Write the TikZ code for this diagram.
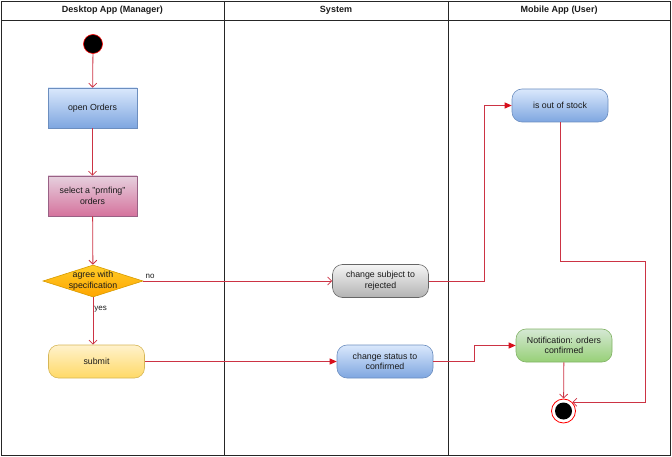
\documentclass[tikz,border=0pt]{standalone}
\usepackage{fontspec}
\setmainfont{Liberation Sans}
\usetikzlibrary{arrows.meta,shapes.geometric,calc}
\definecolor{lnred}{HTML}{CC3344}
\definecolor{arrred}{HTML}{D8101C}
\definecolor{bluetop}{HTML}{DAE8FC}
\definecolor{bluebot}{HTML}{7EA6E0}
\definecolor{bluestr}{HTML}{6C8EBF}
\definecolor{pinktop}{HTML}{E6D0DE}
\definecolor{pinkbot}{HTML}{D5739D}
\definecolor{pinkstr}{HTML}{996185}
\definecolor{yeltop}{HTML}{FFF2CC}
\definecolor{yelbot}{HTML}{FFD966}
\definecolor{yelstr}{HTML}{D6B656}
\definecolor{graytop}{HTML}{F5F5F5}
\definecolor{graybot}{HTML}{B3B3B3}
\definecolor{graystr}{HTML}{666666}
\definecolor{grntop}{HTML}{D5E8D4}
\definecolor{grnbot}{HTML}{97D077}
\definecolor{grnstr}{HTML}{82B366}
\definecolor{orgtop}{HTML}{FFCD28}
\definecolor{orgbot}{HTML}{FFA500}
\definecolor{orgstr}{HTML}{D79B00}
\definecolor{txt}{HTML}{1A1A1A}
\tikzset{
  nodefont/.style={font=\fontsize{8.8}{10.6}\selectfont, text=txt},
  actbox/.style={nodefont, draw, rectangle, minimum width=89pt, minimum height=40pt, inner sep=1pt, align=center, line width=0.6pt},
  rndbox/.style={nodefont, draw, rectangle, rounded corners=10pt, minimum width=96pt, minimum height=33pt, inner sep=1pt, align=center, line width=0.6pt},
  bluefill/.style={top color=bluetop, bottom color=bluebot, draw=bluestr},
  pinkfill/.style={top color=pinktop, bottom color=pinkbot, draw=pinkstr},
  yelfill/.style={top color=yeltop, bottom color=yelbot, draw=yelstr},
  grayfill/.style={top color=graytop, bottom color=graybot, draw=graystr},
  grnfill/.style={top color=grntop, bottom color=grnbot, draw=grnstr},
  hdr/.style={font=\fontsize{9}{11}\selectfont\bfseries, text=txt},
  lbl/.style={font=\fontsize{8}{10}\selectfont, text=txt, inner sep=1pt},
  flowo/.style={draw=lnred, line width=0.8pt, -{Straight Barb[length=4pt,width=8pt]}},
  flowf/.style={draw=lnred, line width=0.8pt, -{Triangle[length=7pt,width=6pt,color=arrred]}},
  frame/.style={draw=black!85, line width=0.8pt}
}
\begin{document}
\begin{tikzpicture}[x=1pt,y=-1pt]
\useasboundingbox (0,0) rectangle (672,457);
% pool frame
\draw[frame] (1,1) rectangle (670,455);
\draw[frame] (1,20) -- (670,20);
\draw[frame] (224.5,1) -- (224.5,455);
\draw[frame] (448,1) -- (448,455);
\node[hdr] (h1) at (112.5,10.5) {Desktop App (Manager)};
\node[hdr] (h2) at (336,10.5) {System};
\node[hdr] (h3) at (559,10.5) {Mobile App (User)};
% nodes
\node[circle, fill=black, draw=red, line width=0.6pt, minimum size=19pt, inner sep=0] (s) at (93,44) {};
\node[actbox, bluefill] (o) at (92.5,108) {open Orders};
\node[actbox, pinkfill] (sel) at (92.5,196) {select a "prnfing"\\orders};
\node[diamond, minimum width=100pt, minimum height=32pt, inner sep=0, top color=orgtop, bottom color=orgbot, draw=orgstr, line width=0.6pt,
      label={[nodefont, align=center]center:agree with\\specification}] (d) at (93,281) {};
\node[rndbox, yelfill] (sub) at (96.5,361.5) {submit};
\node[rndbox, grayfill] (cs) at (380.5,281) {change subject to\\rejected};
\node[rndbox, bluefill] (cst) at (385,361.5) {change status to\\confirmed};
\node[rndbox, bluefill] (oos) at (560,105.5) {is out of stock};
\node[rndbox, grnfill] (nt) at (564,345.5) {Notification: orders\\confirmed};
\node[circle, draw=red, fill=white, line width=0.8pt, minimum size=24pt, inner sep=0,
      path picture={\fill[black] (path picture bounding box.center) circle (8.5pt);}] (e) at (563.5,411) {};
% edges
\draw[flowo] (s) -- (o);
\draw[flowo] (o) -- (sel);
\draw[flowo] (sel) -- (d);
\draw[flowo] (d.south) -- (d.south |- sub.north) node[pos=0.26, anchor=west, lbl] {yes};
\draw[flowo] (d.east) -- (cs.west) node[at start, anchor=south west, lbl, xshift=1pt, yshift=1pt] {no};
\draw[flowf] (cs.east) -- (484,281) |- (oos.west);
\draw[flowf] (sub.east) -- (cst.west);
\draw[flowf] (cst.east) -- (474,361.5) |- (nt.west);
\draw[flowo] (nt) -- (e);
\draw[flowo] (oos.south) |- (645,261) |- (e.45);
\end{tikzpicture}
\end{document}
